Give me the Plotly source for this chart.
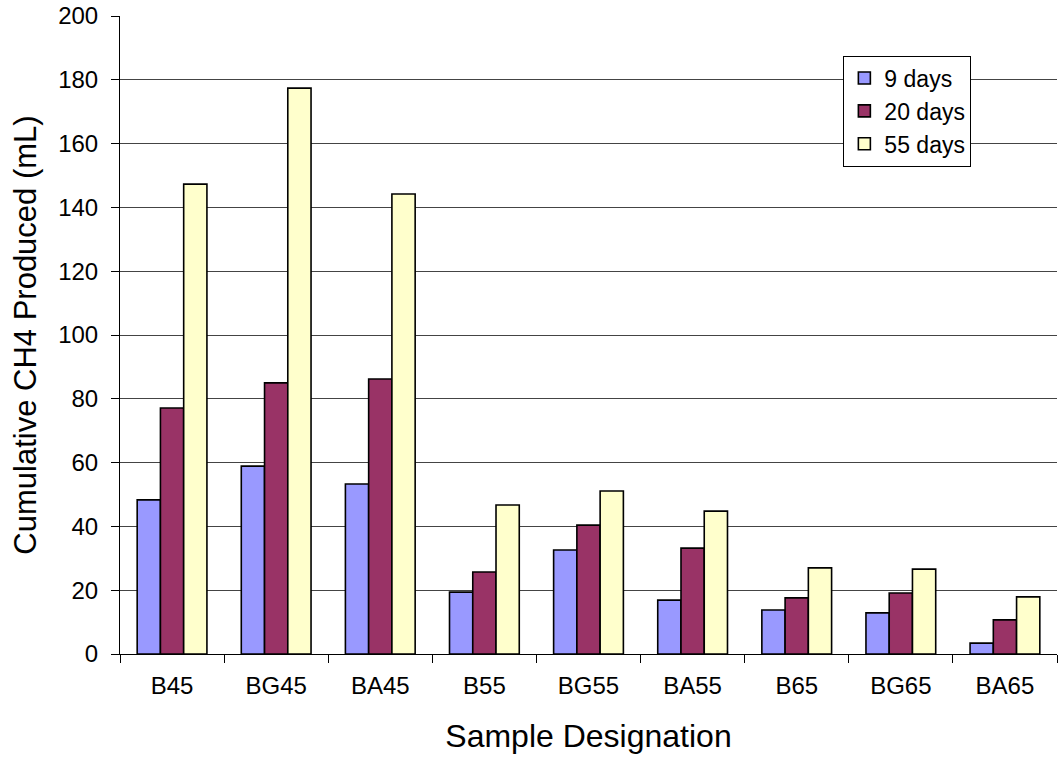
import plotly.graph_objects as go

samples = ["B45", "BG45", "BA45", "B55", "BG55", "BA55", "B65", "BG65", "BA65"]
days_9 = [48.3, 58.9, 53.3, 19.4, 32.6, 16.9, 13.8, 12.9, 3.4]
days_20 = [77.1, 85.0, 86.2, 25.7, 40.4, 33.2, 17.6, 19.1, 10.7]
days_55 = [147.3, 177.4, 144.2, 46.7, 51.1, 44.8, 27.0, 26.6, 17.9]
y_ticks = [0, 20, 40, 60, 80, 100, 120, 140, 160, 180, 200]

series = [
    ("9 days", days_9, "#9999FF"),
    ("20 days", days_20, "#993366"),
    ("55 days", days_55, "#FFFFCC"),
]

fig = go.Figure()
for name, vals, color in series:
    fig.add_trace(go.Bar(
        x=samples, y=vals, name=name,
        marker=dict(color=color, line=dict(color="black", width=1.6)),
    ))

font = "Liberation Sans, Arial, sans-serif"
fig.update_layout(
    width=1059, height=757,
    margin=dict(l=120, r=2, t=16, b=103, autoexpand=False),
    paper_bgcolor="white", plot_bgcolor="white",
    barmode="group", bargap=0.33, bargroupgap=0,
    font=dict(family=font, color="black"),
    showlegend=True,
    legend=dict(
        x=0.772, y=0.938, xanchor="left", yanchor="top",
        bgcolor="white", bordercolor="black", borderwidth=1,
        font=dict(size=23, family=font),
        itemwidth=30,
    ),
    xaxis=dict(
        title=dict(text="Sample Designation", font=dict(size=32), standoff=26),
        tickfont=dict(size=24), tickmode="array", tickvals=samples,
        tickson="boundaries", ticks="outside", ticklen=8, tickcolor="black",
        ticklabelstandoff=10,
        showline=True, linecolor="black", linewidth=1,
        automargin=False,
    ),
    yaxis=dict(
        title=dict(text="Cumulative CH4 Produced (mL)", font=dict(size=31), standoff=12),
        range=[0, 200], tickvals=y_ticks, tickfont=dict(size=24),
        ticks="outside", ticklen=8, tickcolor="black",
        ticklabelstandoff=8,
        showline=True, linecolor="black", linewidth=1,
        showgrid=True, gridcolor="#444444", gridwidth=1, zeroline=False,
        automargin=False,
    ),
)

fig.write_html("out.html")
